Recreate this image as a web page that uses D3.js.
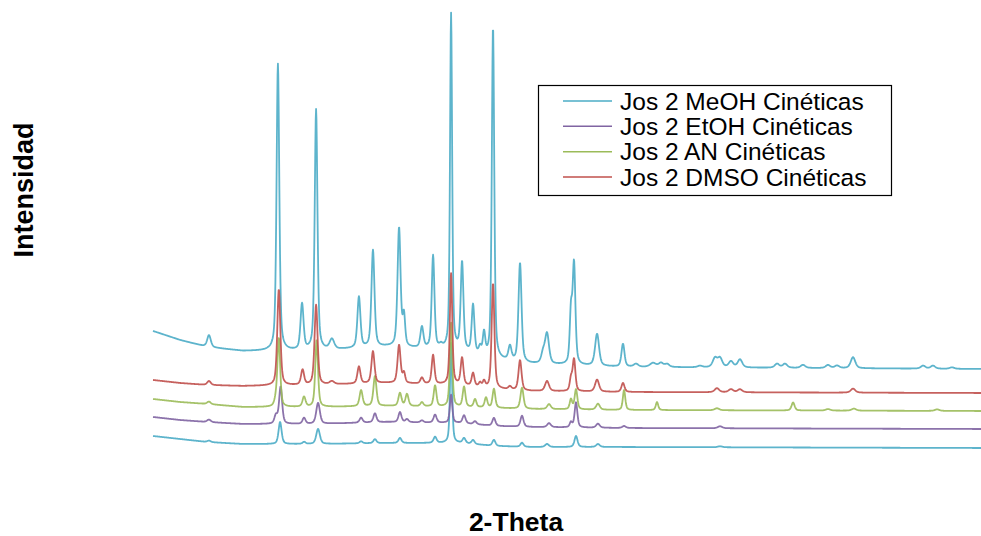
<!DOCTYPE html>
<html>
<head>
<meta charset="utf-8">
<script src="https://cdn.jsdelivr.net/npm/d3@7"></script>
<style>
  html, body { margin: 0; padding: 0; background: #fff; }
  svg { display: block; }
</style>
</head>
<body>
<svg id="chart" width="981" height="536"></svg>
<script>
// Powder diffractograms, stacked with offsets. Each pattern is described by its
// background (read at fixed 2θ anchors) and a peak table: [2θ, height, half-width].

const legendNames = ["Jos 2 MeOH Cinéticas", "Jos 2 EtOH Cinéticas", "Jos 2 AN Cinéticas", "Jos 2 DMSO Cinéticas"];
const seriesColors = { meoh: "#4bacc6", etoh: "#8064a2", an: "#9bbb59", dmso: "#c0504d", ref: "#4bacc6" };

// background anchors (2θ, degrees)
const bgAngles = [4, 5.5, 7, 9, 13, 17, 21, 23, 25, 30, 50];

// background levels at the anchors (counts, offsets included)
const bgMeOH = [1240, 1150, 1080, 1040, 1040, 1080, 1040, 950, 910, 880, 860];
const bgDMSO = [750, 720, 700, 690, 700, 720, 700, 660, 640, 630, 620];
const bgAN   = [560, 530, 510, 480, 480, 490, 480, 470, 460, 450, 440];
const bgEtOH = [380, 350, 330, 310, 310, 330, 320, 290, 280, 270, 260];
const bgRef  = [190, 160, 130, 110, 110, 120, 120, 90, 80, 80, 70];

// peak tables: [2θ, height (counts), half-width (degrees)]
const peaksMeOH = [
  [7.11, 120, 0.12], [10.94, 2870, 0.09], [12.28, 460, 0.1], [13.06, 2410, 0.09],
  [13.94, 100, 0.15], [15.44, 510, 0.1], [16.22, 970, 0.1], [17.67, 1190, 0.1],
  [17.94, 300, 0.08], [18.94, 210, 0.1], [19.56, 930, 0.09], [20.0, 30, 0.1],
  [20.56, 3360, 0.07], [21.17, 880, 0.09], [21.78, 480, 0.09], [22.17, 70, 0.08],
  [22.39, 220, 0.08], [22.89, 3320, 0.08], [23.83, 140, 0.1], [24.39, 990, 0.1],
  [25.67, 100, 0.12], [25.89, 300, 0.13], [27.22, 500, 0.08], [27.39, 1000, 0.09],
  [28.67, 320, 0.13], [30.11, 230, 0.1], [30.83, 30, 0.15], [31.78, 40, 0.2],
  [32.22, 40, 0.15], [32.56, 30, 0.15], [34.39, 15, 0.15], [35.22, 90, 0.15],
  [35.5, 90, 0.15], [36.11, 60, 0.15], [36.61, 80, 0.15], [38.67, 40, 0.15],
  [39.11, 40, 0.15], [40.11, 30, 0.15], [41.5, 30, 0.15], [42.0, 25, 0.15],
  [42.89, 110, 0.15], [46.78, 30, 0.15], [47.33, 30, 0.15], [48.39, 15, 0.15]
];
const peaksDMSO = [
  [7.11, 40, 0.12], [10.99, 960, 0.1], [12.31, 150, 0.1], [13.06, 800, 0.1],
  [13.94, 30, 0.15], [15.44, 170, 0.1], [16.22, 320, 0.1], [17.67, 380, 0.1],
  [17.94, 100, 0.08], [18.94, 60, 0.1], [19.56, 290, 0.09], [20.56, 1110, 0.08],
  [21.17, 270, 0.09], [21.78, 130, 0.09], [22.17, 40, 0.08], [22.39, 60, 0.08],
  [22.89, 1050, 0.09], [23.83, 30, 0.1], [24.39, 300, 0.1], [25.89, 100, 0.13],
  [27.22, 120, 0.08], [27.39, 320, 0.09], [28.67, 120, 0.13], [30.11, 90, 0.1],
  [35.33, 40, 0.15], [36.11, 30, 0.15], [36.61, 30, 0.15], [42.89, 40, 0.15]
];
const peaksAN = [
  [7.11, 25, 0.12], [10.83, 60, 0.1], [10.99, 680, 0.09], [12.39, 100, 0.1],
  [13.09, 670, 0.09], [15.56, 160, 0.1], [16.33, 300, 0.1], [17.72, 130, 0.1],
  [18.11, 120, 0.1], [18.94, 40, 0.1], [19.67, 210, 0.09], [20.56, 840, 0.08],
  [21.28, 200, 0.09], [21.89, 80, 0.09], [22.5, 100, 0.09], [22.94, 190, 0.09],
  [24.5, 210, 0.1], [26.0, 50, 0.12], [27.22, 100, 0.08], [27.5, 200, 0.09],
  [28.72, 60, 0.12], [30.17, 200, 0.08], [32.0, 80, 0.08], [35.33, 20, 0.15],
  [39.56, 80, 0.1], [41.5, 15, 0.15], [42.94, 20, 0.15], [47.56, 15, 0.15]
];
const peaksEtOH = [
  [7.11, 25, 0.12], [10.83, 80, 0.1], [11.09, 370, 0.1], [12.39, 60, 0.1],
  [13.17, 210, 0.12], [15.56, 50, 0.1], [16.33, 90, 0.1], [17.72, 100, 0.1],
  [18.11, 30, 0.1], [18.94, 20, 0.1], [19.67, 80, 0.1], [20.56, 280, 0.08],
  [21.28, 80, 0.1], [21.89, 30, 0.1], [22.94, 80, 0.1], [24.5, 110, 0.1],
  [26.0, 40, 0.12], [27.22, 50, 0.08], [27.5, 250, 0.09], [28.72, 40, 0.12],
  [30.17, 20, 0.12], [35.5, 20, 0.15]
];
const peaksRef = [
  [7.11, 15, 0.12], [11.06, 220, 0.1], [12.39, 20, 0.1], [13.17, 150, 0.12],
  [15.56, 20, 0.1], [16.33, 40, 0.1], [17.72, 50, 0.1], [19.67, 60, 0.1],
  [20.56, 1000, 0.07], [21.28, 50, 0.1], [21.78, 40, 0.1], [22.94, 60, 0.1],
  [24.5, 40, 0.1], [25.89, 30, 0.12], [27.5, 110, 0.1], [28.72, 30, 0.12],
  [35.5, 10, 0.15]
];

const xTitle = "2-Theta";
const yTitle = "Intensidad";

// ---- layout ----
const svg = d3.select("#chart");
const x = d3.scaleLinear().domain([4, 50]).range([153, 981]);
const y = d3.scaleLinear().domain([0, 4500]).range([455, 5]);

const step = 0.02;
const grid = d3.range(4, 50 + step / 2, step);

// pseudo-Voigt profile, half Lorentzian / half Gaussian
function profile(t, peaks) {
  let s = 0;
  for (const [c, h, w] of peaks) {
    const u = (t - c) / w;
    if (Math.abs(u) > 400) continue;
    const u2 = u * u;
    s += h * (0.5 / (1 + u2) + 0.5 * Math.exp(-Math.LN2 * u2));
  }
  return s;
}

function pattern(bg, peaks) {
  const base = d3.scaleLinear().domain(bgAngles).range(bg);
  return grid.map(t => [t, base(t) + profile(t, peaks)]);
}

const line = d3.line().x(d => x(d[0])).y(d => y(d[1])).curve(d3.curveLinear);

// drawing order: lowest reference trace first, DMSO last
const traces = [
  { data: pattern(bgRef, peaksRef), color: seriesColors.ref },
  { data: pattern(bgMeOH, peaksMeOH), color: seriesColors.meoh },
  { data: pattern(bgEtOH, peaksEtOH), color: seriesColors.etoh },
  { data: pattern(bgAN, peaksAN), color: seriesColors.an },
  { data: pattern(bgDMSO, peaksDMSO), color: seriesColors.dmso }
];

svg.append("g").selectAll("path").data(traces).join("path")
  .attr("d", d => line(d.data))
  .attr("fill", "none")
  .attr("stroke", d => d.color)
  .attr("stroke-width", 1.8)
  .attr("stroke-opacity", 0.9)
  .attr("stroke-linejoin", "round");

// axis titles
svg.append("text")
  .attr("x", 516).attr("y", 531)
  .attr("text-anchor", "middle")
  .attr("font-family", "Liberation Sans, Arial, sans-serif")
  .attr("font-weight", "bold").attr("font-size", 26.5)
  .text(xTitle);

svg.append("text")
  .attr("transform", "translate(33,190) rotate(-90)")
  .attr("text-anchor", "middle")
  .attr("font-family", "Liberation Sans, Arial, sans-serif")
  .attr("font-weight", "bold").attr("font-size", 27)
  .text(yTitle);

// legend
const legendColors = [seriesColors.meoh, seriesColors.etoh, seriesColors.an, seriesColors.dmso];
const lg = svg.append("g");
lg.append("rect")
  .attr("x", 538.5).attr("y", 85.5).attr("width", 353).attr("height", 110)
  .attr("fill", "#fff").attr("stroke", "#000").attr("stroke-width", 1.2);
const rowY = d3.scalePoint().domain(d3.range(legendNames.length)).range([101, 177]);
const rows = lg.selectAll("g.row").data(legendNames).join("g")
  .attr("transform", (d, i) => `translate(0,${rowY(i)})`);
rows.append("line")
  .attr("x1", 563).attr("x2", 612).attr("y1", 0).attr("y2", 0)
  .attr("stroke", (d, i) => legendColors[i]).attr("stroke-width", 1.5);
rows.append("text")
  .attr("x", 620).attr("y", 8.5)
  .attr("font-family", "Liberation Sans, Arial, sans-serif")
  .attr("font-size", 24.5).attr("fill", "#000")
  .text(d => d);
</script>
</body>
</html>
